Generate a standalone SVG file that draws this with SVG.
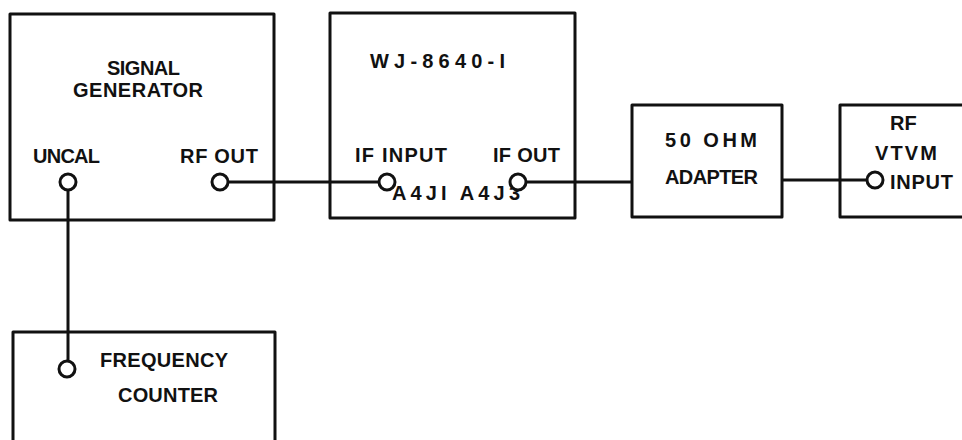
<svg xmlns="http://www.w3.org/2000/svg" width="962" height="440" viewBox="0 0 962 440">
<style>
.box{fill:none;stroke:#111;stroke-width:3;stroke-linejoin:round}
.wire{fill:none;stroke:#111;stroke-width:3}
.jack{fill:#fff;stroke:#111;stroke-width:3}
text{font-family:"Liberation Sans",Arial,sans-serif;font-weight:bold;font-size:20px;fill:#111}
</style>
<rect width="962" height="440" fill="#fff"/>
<g id="connectors">
<line class="wire" x1="229" y1="182" x2="378" y2="182"/>
<line class="wire" x1="527" y1="182" x2="632" y2="182"/>
<line class="wire" x1="782" y1="180" x2="866" y2="180"/>
<line class="wire" x1="68" y1="191" x2="68" y2="360"/>
</g>
<g id="signal-generator">
<rect class="box" x="10" y="14" width="264" height="206"/>
<text x="107" y="75" textLength="73" lengthAdjust="spacing">SIGNAL</text>
<text x="73" y="97" textLength="130" lengthAdjust="spacing">GENERATOR</text>
<text x="33" y="163" textLength="67" lengthAdjust="spacing">UNCAL</text>
<text x="180" y="163" textLength="78" lengthAdjust="spacing">RF OUT</text>
<circle class="jack" cx="68" cy="182" r="8"/>
<circle class="jack" cx="220" cy="182" r="8"/>
</g>
<g id="wj-8640-1">
<rect class="box" x="330" y="13" width="245" height="205"/>
<text x="370" y="68" textLength="135" lengthAdjust="spacing">WJ-8640-I</text>
<text x="355" y="162" textLength="92" lengthAdjust="spacing">IF INPUT</text>
<text x="493" y="162" textLength="67" lengthAdjust="spacing">IF OUT</text>
<text x="392" y="200" textLength="128" lengthAdjust="spacing">A4JI A4J3</text>
<circle class="jack" cx="387" cy="182" r="8"/>
<circle class="jack" cx="518" cy="182" r="8"/>
</g>
<g id="adapter">
<rect class="box" x="632" y="105" width="150" height="112"/>
<text x="665" y="147" textLength="92" lengthAdjust="spacing">50 OHM</text>
<text x="665" y="184" textLength="93" lengthAdjust="spacing">ADAPTER</text>
</g>
<g id="rf-vtvm">
<path class="box" d="M970 105 H840 V217 H970"/>
<text x="890" y="130">RF</text>
<text x="875" y="160" textLength="62" lengthAdjust="spacing">VTVM</text>
<text x="890" y="189" textLength="63" lengthAdjust="spacing">INPUT</text>
<circle class="jack" cx="875" cy="180" r="8"/>
</g>
<g id="frequency-counter">
<path class="box" d="M13 450 V332 H275 V450"/>
<text x="100" y="367" textLength="128" lengthAdjust="spacing">FREQUENCY</text>
<text x="118" y="402" textLength="100" lengthAdjust="spacing">COUNTER</text>
<circle class="jack" cx="67" cy="369" r="8"/>
</g>
</svg>
